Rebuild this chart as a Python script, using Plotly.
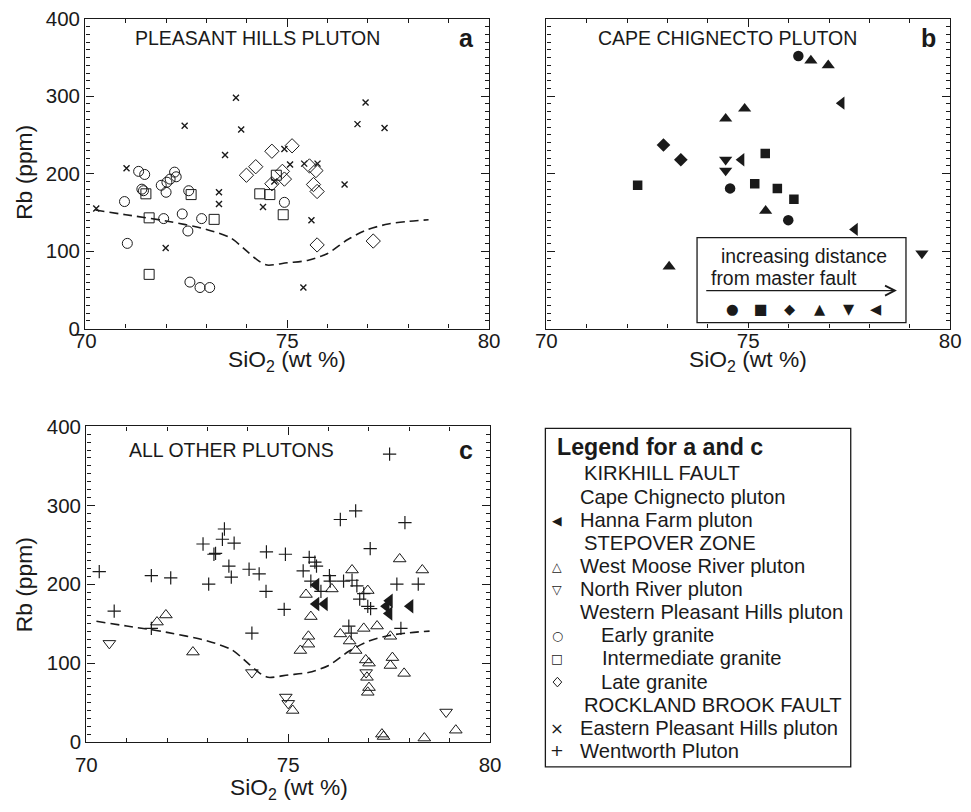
import plotly.graph_objects as go

# ---------------- data ----------------
# Panel a: Pleasant Hills pluton
a_early_x = [71.32, 71.47, 71.40, 71.44, 70.97, 71.04, 71.88, 72.00, 72.02, 72.10, 72.21, 72.25,
             71.94, 72.40, 72.54, 72.56, 72.88, 72.59, 72.84, 73.08, 74.93]
a_early_y = [203, 199, 180, 178, 164, 110, 185, 176, 189, 193, 202, 196,
             142, 148, 126, 178, 142, 60, 53, 53, 163]
a_inter_x = [71.50, 71.58, 72.62, 73.19, 71.58, 74.32, 74.57, 74.73, 74.90]
a_inter_y = [174, 143, 173, 141, 70, 174, 173, 198, 147]
a_late_x = [73.99, 74.22, 74.62, 75.12, 74.62, 74.88, 74.93, 75.55, 75.71, 75.65, 75.74, 75.74, 77.13]
a_late_y = [198, 209, 229, 236, 187, 203, 193, 210, 204, 186, 177, 108, 113]
a_east_x = [70.27, 71.02, 72.46, 73.73, 73.86, 73.46, 73.31, 73.31, 71.99, 76.94, 76.74, 77.41,
            74.93, 75.07, 75.42, 75.75, 76.42, 74.40, 75.60, 75.40, 74.68]
a_east_y = [155, 207, 262, 298, 257, 224, 176, 161, 104, 292, 264, 259,
            232, 212, 213, 213, 186, 157, 140, 53, 190]

# Panel b: Cape Chignecto pluton
b_circle_x = [76.24, 75.99, 74.55]
b_circle_y = [352, 140, 181]
b_square_x = [72.26, 75.16, 75.42, 75.72, 76.13]
b_square_y = [185, 187, 226, 181, 167]
b_diamond_x = [72.90, 73.33]
b_diamond_y = [237, 218]
b_up_x = [74.44, 74.91, 73.04, 76.55, 76.98, 75.43]
b_up_y = [271, 284, 80, 346, 340, 152]
b_down_x = [74.44, 74.44, 79.30]
b_down_y = [218, 204, 97]
b_left_x = [74.83, 77.31, 77.64]
b_left_y = [218, 291, 128]

# Panel c: all other plutons
c_went_x = [70.32, 70.69, 71.61, 72.09, 71.61, 72.89, 73.42, 73.37, 73.66, 73.16, 73.20, 73.53,
            73.59, 73.03, 74.03, 74.28, 74.46, 74.45, 74.10,
            76.67, 76.29, 77.89, 77.03, 74.93, 75.52, 75.66, 75.70, 75.37, 76.02, 75.56, 76.04,
            76.37, 76.58, 76.70, 75.81, 76.87, 76.77, 76.97, 77.04, 77.69, 78.22, 74.90, 76.50,
            76.56, 77.79, 77.51]
c_went_y = [216, 166, 211, 208, 144, 251, 270, 257, 252, 238, 239, 223,
            209, 200, 219, 213, 241, 191, 138,
            293, 282, 278, 245, 238, 234, 228, 223, 217, 211, 204, 204,
            204, 205, 198, 191, 188, 181, 172, 169, 200, 200, 168, 147,
            138, 144, 365]
c_hanna_x = [75.69, 75.69, 75.90, 77.51, 77.43, 77.50, 78.02]
c_hanna_y = [199, 175, 175, 179, 172, 163, 172]
c_wmr_x = [71.75, 71.97, 72.64, 77.76, 78.32, 76.58, 75.44, 76.08, 76.97, 75.56, 77.20, 76.87,
           76.29, 76.52, 76.67, 75.50, 75.50, 75.30, 77.53, 77.58, 77.53, 77.87, 76.92, 77.00,
           77.00, 76.97, 75.11, 77.32, 77.36, 78.37, 79.15, 76.95]
c_wmr_y = [152, 161, 114, 232, 218, 218, 187, 194, 192, 159, 147, 144,
           137, 128, 116, 134, 124, 116, 134, 107, 97, 87, 104, 100,
           69, 63, 40, 10, 7, 5, 15, 82]
c_nr_x = [70.57, 74.10, 74.94, 75.00, 76.93, 78.91]
c_nr_y = [125, 88, 57, 49, 88, 38]

# dashed reference curve (same in a and c)
dash_x = [70.25, 71.0, 72.0, 73.0, 73.6, 74.0, 74.3, 74.5, 75.0, 75.5, 76.0, 76.5, 77.0, 77.5, 78.0, 78.5]
dash_y = [153, 147, 139, 128, 117, 100, 87, 82, 85, 88, 97, 115, 128, 135, 138.5, 140.5]

x_ticks = [70, 75, 80]
y_ticks = [0, 100, 200, 300, 400]

legend_rows = [
    ("KIRKHILL FAULT", "", 581),
    ("Cape Chignecto pluton", "", 577),
    ("Hanna Farm pluton", "◀", 577),
    ("STEPOVER ZONE", "", 581),
    ("West Moose River pluton", "△", 577),
    ("North River pluton", "▽", 577),
    ("Western Pleasant Hills pluton", "", 577),
    ("Early granite", "○", 598),
    ("Intermediate granite", "□", 599),
    ("Late granite", "◇", 598),
    ("ROCKLAND BROOK FAULT", "", 581),
    ("Eastern Pleasant Hills pluton", "×", 577),
    ("Wentworth Pluton", "+", 577),
]
legend_y = [473, 497, 520, 543, 566, 589, 612, 635, 658, 682, 705, 728, 751]
inset_symbols = ["●", "■", "◆", "▲", "▼", "◀"]
inset_sym_x = [731, 760, 789, 818, 847, 874]

# ---------------- layout helpers ----------------
W, H = 971, 812
FONT = "Liberation Sans, Arial, Helvetica, sans-serif"
INK = "#1a1a1a"
# positions below are given in photographed-picture pixels; the photograph shows the
# page slightly reduced and centred, so convert to figure pixels.
S, OX, OY = 0.973, 13.0, 11.0


def fx(px):
    return (px - OX) / S


def fy(py):
    return (py - OY) / S


def X(px):
    return fx(px) / W


def Y(py):
    return 1 - fy(py) / H


fig = go.Figure()


def add(xs, ys, symbol, size, axis, lw=1.0):
    fig.add_trace(go.Scatter(
        x=xs, y=ys, mode="markers", xaxis="x" + axis, yaxis="y" + axis,
        marker=dict(symbol=symbol, size=size, color=INK, line=dict(color=INK, width=lw)),
        showlegend=False, hoverinfo="skip"))


def add_dash(axis):
    fig.add_trace(go.Scatter(
        x=dash_x, y=dash_y, mode="lines", xaxis="x" + axis, yaxis="y" + axis,
        line=dict(color=INK, width=1.6, dash="9px,5px", shape="spline", smoothing=0.8),
        showlegend=False, hoverinfo="skip"))


# panel a
add_dash("")
add(a_east_x, a_east_y, "x-thin", 6, "", 1.4)
add(a_early_x, a_early_y, "circle-open", 10, "", 1.0)
add(a_inter_x, a_inter_y, "square-open", 10, "", 1.0)
add(a_late_x, a_late_y, "diamond-open", 11, "", 1.0)

# panel b
add(b_circle_x, b_circle_y, "circle", 10.5, "2", 0)
add(b_square_x, b_square_y, "square", 9.5, "2", 0)
add(b_diamond_x, b_diamond_y, "diamond", 10.5, "2", 0)
add(b_up_x, b_up_y, "triangle-up", 11.5, "2", 0)
add(b_down_x, b_down_y, "triangle-down", 11.5, "2", 0)
add(b_left_x, b_left_y, "triangle-left", 11.5, "2", 0)

# panel c
add_dash("3")
add(c_went_x, c_went_y, "cross-thin", 9.5, "3", 1.2)
add(c_wmr_x, c_wmr_y, "triangle-up-open", 11, "3", 1.0)
add(c_nr_x, c_nr_y, "triangle-down-open", 11, "3", 1.0)
add(c_hanna_x, c_hanna_y, "triangle-left", 12.5, "3", 0)


def xax(domain, standoff, labels=True):
    return dict(domain=domain, range=[70, 80], tickvals=x_ticks, ticktext=[str(v) for v in x_ticks],
                showticklabels=labels, ticks="inside", ticklen=8, tickwidth=1.2, tickcolor=INK,
                ticklabelstandoff=standoff,
                showline=True, linecolor=INK, linewidth=1.4, mirror="ticks", showgrid=False,
                zeroline=False, tickfont=dict(size=20.5, color=INK, family=FONT),
                minor=dict(dtick=1, tick0=70, ticks="inside", ticklen=4, tickwidth=1, tickcolor=INK,
                           showgrid=False),
                fixedrange=True)


def yax(domain, anchor, labels=True):
    return dict(domain=domain, anchor=anchor, range=[0, 400], tickvals=y_ticks,
                ticktext=[str(v) for v in y_ticks], showticklabels=labels,
                ticks="inside", ticklen=8, tickwidth=1.2, tickcolor=INK,
                showline=True, linecolor=INK, linewidth=1.4, mirror="ticks", showgrid=False,
                zeroline=False, tickfont=dict(size=20.5, color=INK, family=FONT),
                minor=dict(dtick=10, tick0=0, ticks="inside", ticklen=4, tickwidth=1, tickcolor=INK,
                           showgrid=False),
                fixedrange=True)


top = [Y(328), 1 - 7.0 / H]
bot = [Y(742), Y(426)]

annotations = []
shapes = []


def text(px, py, s, size=20, xanchor="left", bold=False, angle=0, family=FONT, fig_y=None):
    annotations.append(dict(
        x=X(px), y=Y(py) if fig_y is None else 1 - fig_y / H, xref="paper", yref="paper",
        text=("<b>%s</b>" % s) if bold else s,
        showarrow=False, xanchor=xanchor, yanchor="middle", textangle=angle,
        font=dict(size=size, color=INK, family=family)))


# panel titles / letters
text(134, 37, "PLEASANT HILLS PLUTON", 19.5)
text(595, 37, "CAPE CHIGNECTO PLUTON", 19.5)
text(128, 450, "ALL OTHER PLUTONS", 19.5)
text(466, 37, "a", 25, "center", True)
text(926, 37, "b", 25, "center", True)
text(466, 450, "c", 25, "center", True)

# axis titles
text(288, 360, "SiO<sub>2</sub> (wt %)", 22.8, "center")
text(747, 360, "SiO<sub>2</sub> (wt %)", 22.8, "center")
text(290, 797, "SiO<sub>2</sub> (wt %)", 22.8, "center", fig_y=799)
text(26, 172, "Rb (ppm)", 22.8, "center", angle=-90)
text(26, 585, "Rb (ppm)", 22.8, "center", angle=-90)

# inset in panel b
shapes.append(dict(type="rect", xref="paper", yref="paper", x0=X(696), x1=X(904), y0=Y(322), y1=Y(237),
                   line=dict(color=INK, width=1.3), fillcolor="white", layer="above"))
text(718, 255, "increasing distance", 19.4)
text(708, 277, "from master fault", 19.4)
annotations.append(dict(x=X(895), y=Y(290), xref="paper", yref="paper", ax=-(895 - 708) / S, ay=0,
                        axref="pixel", ayref="pixel", showarrow=True, arrowhead=5, arrowsize=1.6,
                        arrowwidth=1.2, arrowcolor=INK, text=""))
for sx, s in zip(inset_sym_x, inset_symbols):
    text(sx, 308, s, 14.5, "center", family="DejaVu Sans")

# legend for a and c
shapes.append(dict(type="rect", xref="paper", yref="paper", x0=X(545), x1=X(849), y0=Y(767), y1=Y(428),
                   line=dict(color=INK, width=1.3), fillcolor="rgba(0,0,0,0)"))
text(555, 447, "Legend for a and c", 23.2, bold=True)
for (label, sym, lx), yy in zip(legend_rows, legend_y):
    text(lx, yy, label, 20.2)
    if sym == "◇":
        # open diamond key drawn as a small outline path (keeps it monochrome)
        cx, cy = X(557), Y(yy)
        dx, dy = 4.3 / S / W, 4.8 / S / H
        shapes.append(dict(type="path", xref="paper", yref="paper",
                           path="M %f,%f L %f,%f L %f,%f L %f,%f Z" % (
                               cx, cy + dy, cx + dx, cy, cx, cy - dy, cx - dx, cy),
                           line=dict(color=INK, width=1.0), fillcolor="rgba(0,0,0,0)"))
    elif sym:
        text(557, yy, sym, 12.5 if sym not in ("×", "+") else 16.5, "center", family="DejaVu Sans")

fig.update_layout(
    width=W, height=H, margin=dict(l=0, r=0, t=0, b=0),
    paper_bgcolor="white", plot_bgcolor="white",
    font=dict(family=FONT, color=INK, size=20),
    xaxis=xax([X(87), X(489)], -6), yaxis=yax(top, "x"),
    xaxis2=xax([X(546), X(948)], -6), yaxis2=yax(top, "x2", labels=False),
    xaxis3=xax([X(88), X(490)], 4), yaxis3=yax(bot, "x3"),
    annotations=annotations, shapes=shapes, showlegend=False,
)
fig.layout.xaxis.anchor = "y"
fig.layout.xaxis2.anchor = "y2"
fig.layout.xaxis3.anchor = "y3"

fig.write_html(
    "out.html",
    config={"displayModeBar": False},
    post_script="document.body.style.margin='0px';document.body.style.overflow='hidden';",
)
